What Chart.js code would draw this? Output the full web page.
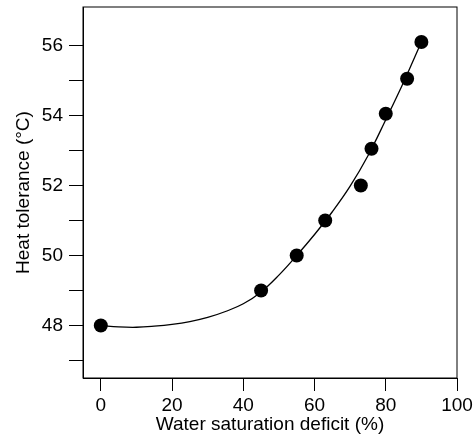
<!DOCTYPE html>
<html>
<head>
<meta charset="utf-8">
<script src="https://cdn.jsdelivr.net/npm/chart.js@4.4.0/dist/chart.umd.min.js"></script>
<style>
  html, body { margin: 0; padding: 0; background: #fff; }
  #wrap { width: 474px; height: 445px; }
</style>
</head>
<body>
<div id="wrap"><canvas id="chart"></canvas></div>
<script>
// measured points
const deficit = [0, 45, 55, 63, 73, 76, 80, 86, 90];
const tolerance = [48.0, 49.0, 50.0, 51.0, 52.0, 53.05, 54.05, 55.05, 56.1];

// fitted curve, every 5 %
const fitX = [0, 5, 10, 15, 20, 25, 30, 35, 40, 45, 50, 55, 60, 65, 70, 75, 80, 85, 90];
const fitY = [48.0, 47.96, 47.95, 47.98, 48.03, 48.11, 48.23, 48.4, 48.62, 48.96,
              49.44, 50.0, 50.6, 51.25, 51.98, 52.85, 53.88, 54.95, 56.1];

// axis ticks (odd y values are unlabelled minor ticks)
const xTicks = [0, 20, 40, 60, 80, 100];
const yTicks = [47, 48, 49, 50, 51, 52, 53, 54, 55, 56];

const FONT = { family: '"Liberation Sans", Arial, Helvetica, sans-serif', size: 19 };

// top and right sides of the frame
const boxPlugin = {
  id: 'box',
  afterDraw(chart) {
    const { ctx, chartArea: a } = chart;
    ctx.save();
    ctx.strokeStyle = '#000';
    ctx.lineWidth = 1;
    ctx.strokeRect(a.left, a.top, a.right - a.left, a.bottom - a.top);
    ctx.restore();
  }
};

new Chart(document.getElementById('chart'), {
  type: 'scatter',
  data: {
    datasets: [
      {
        data: deficit.map((x, i) => ({ x: x, y: tolerance[i] })),
        backgroundColor: '#000',
        borderWidth: 0,
        pointRadius: 7,
        showLine: false,
        order: 1
      },
      {
        data: fitX.map((x, i) => ({ x: x, y: fitY[i] })),
        borderColor: '#000',
        borderWidth: 1.3,
        pointRadius: 0,
        showLine: true,
        tension: 0.4,
        order: 2
      }
    ]
  },
  options: {
    responsive: true,
    maintainAspectRatio: false,
    animation: false,
    layout: { padding: { top: 6, right: 17, left: 0, bottom: 0 } },
    plugins: { legend: { display: false }, tooltip: { enabled: false } },
    scales: {
      x: {
        type: 'linear',
        min: -5,
        max: 100,
        afterBuildTicks: s => { s.ticks = xTicks.map(v => ({ value: v })); },
        afterFit: s => { s.height = 67; s.paddingLeft = 0; s.paddingRight = 0; },
        ticks: { color: '#000', font: FONT, padding: 3, maxRotation: 0 },
        grid: { drawOnChartArea: false, drawTicks: true, tickLength: 13, color: '#000', lineWidth: 1 },
        border: { color: '#000', width: 1 },
        title: { display: true, text: 'Water saturation deficit (%)', color: '#000', font: FONT, padding: { top: 0, bottom: 9 } }
      },
      y: {
        type: 'linear',
        min: 46.5,
        max: 57.1,
        afterBuildTicks: s => { s.ticks = yTicks.map(v => ({ value: v })); },
        afterFit: s => { s.width = 83; s.paddingTop = 0; s.paddingBottom = 0; },
        ticks: { color: '#000', font: FONT, padding: 6, callback: v => (v % 2 === 0 ? String(v) : '') },
        grid: { drawOnChartArea: false, drawTicks: true, tickLength: 14, color: '#000', lineWidth: 1 },
        border: { color: '#000', width: 1 },
        title: { display: true, text: 'Heat tolerance (°C)', color: '#000', font: FONT, padding: { top: 12, bottom: 0 } }
      }
    }
  },
  plugins: [boxPlugin]
});
</script>
</body>
</html>
